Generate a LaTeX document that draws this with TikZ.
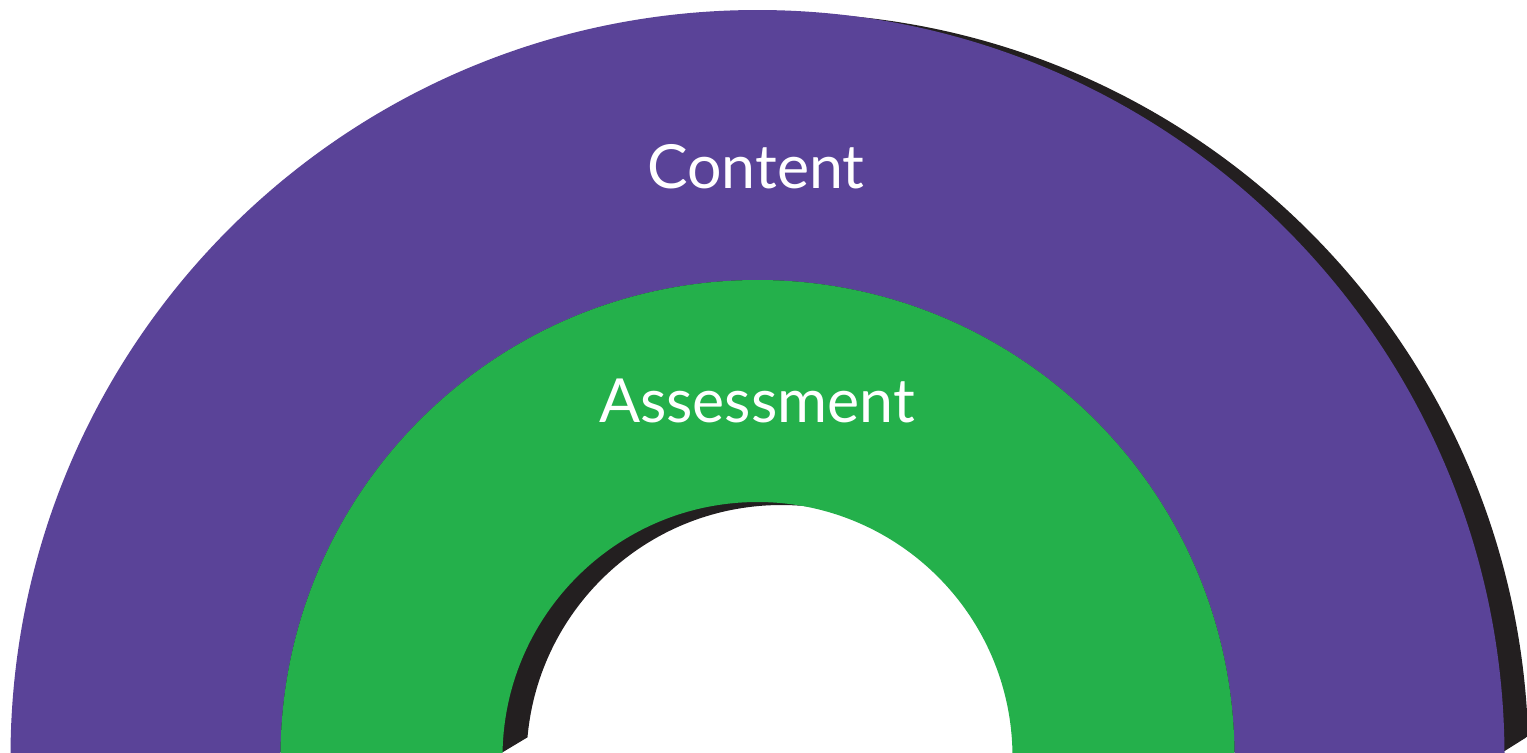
\documentclass[tikz,border=0pt]{standalone}
\usepackage{fontspec}
\setmainfont{Lato}
\usepackage{tikz}
\definecolor{ringpurple}{RGB}{90,67,152}
\definecolor{ringgreen}{RGB}{36,176,75}
\definecolor{shadowblack}{RGB}{35,31,32}
\tikzset{ringlabel/.style={anchor=base, text=white, inner sep=0pt, font=\fontsize{17.3}{20}\selectfont}}

\begin{document}
\begin{tikzpicture}
\useasboundingbox (0,0) rectangle (15.27,7.52);
\fill[white] (0,0) rectangle (15.27,7.52);
\clip (0,0) rectangle (15.27,7.52);
% drawing the shadow
\begin{scope}
\clip (-1,8) -- (16,8) -- (16,0.61) -- (15.03,0) -- (5.28,0) -- (5.28,0.15) -- (5.03,0) -- (-1,0) -- cycle;
\fill[shadowblack, even odd rule] (7.815,-0.08) circle (7.47) (7.815,-0.08) circle (2.55);
\end{scope}
% end of shadow
% two rings
\fill[ringpurple, even odd rule] (7.575,-0.05) circle (7.47) (7.575,-0.05) circle (4.77);
\fill[ringgreen, even odd rule] (7.575,-0.05) circle (4.77) (7.575,-0.05) circle (2.55);
% labels
\node[ringlabel] (content) at (7.56,5.64) {Content};
\node[ringlabel] (assessment) at (7.57,3.30) {Assessment};
\end{tikzpicture}
\end{document}
